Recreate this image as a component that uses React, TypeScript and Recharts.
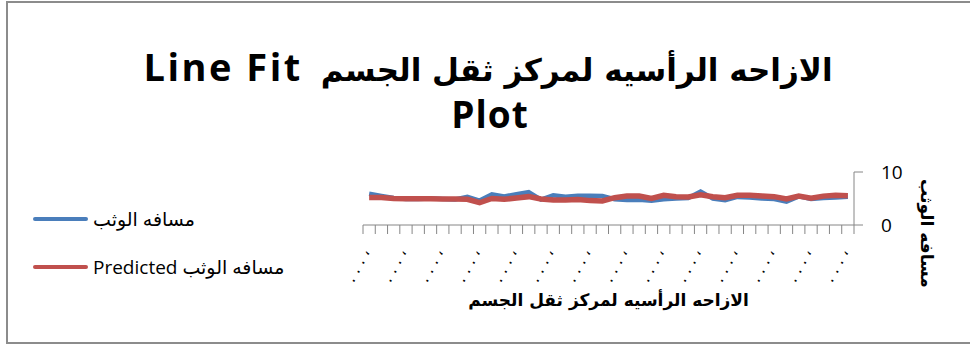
import { LineChart, Line, XAxis, YAxis, Legend, Label } from 'recharts'

// one entry per category
const observed = [
  5.9, 5.5, 5.1, 4.9, 4.9, 5.0, 4.9, 4.8, 5.3, 4.6,
  5.8, 5.4, 5.8, 6.2, 4.8, 5.6, 5.35, 5.5, 5.5, 5.45,
  4.85, 4.7, 4.75, 4.6, 4.85, 5.0, 5.1, 6.3, 5.0, 4.7,
  5.3, 5.2, 5.0, 4.9, 4.4, 5.4, 4.9, 5.1, 5.2, 5.35,
]
const predicted = [
  5.2, 5.2, 5.0, 4.95, 4.95, 4.95, 4.9, 4.9, 4.85, 4.2,
  5.0, 4.85, 5.1, 5.35, 4.9, 4.7, 4.7, 4.8, 4.6, 4.55,
  5.15, 5.45, 5.45, 5.0, 5.6, 5.35, 5.3, 5.7, 5.35, 5.15,
  5.6, 5.6, 5.45, 5.35, 4.9, 5.45, 5.05, 5.45, 5.6, 5.5,
]
const labeledCats = [1, 4, 7, 10, 13, 16, 19, 22, 25, 28, 31, 34, 37, 40]
const catLabel = '. . . ،'
const yTicks = [0, 10]

const seriesName = 'مسافه الوثب'
const predName = 'Predicted مسافه الوثب'
const xTitle = 'الازاحه الرأسيه لمركز ثقل الجسم'
const titleArabic = 'الازاحه الرأسيه لمركز ثقل الجسم'
const titleLatin = 'Line Fit'
const titleLine2 = 'Plot'

const data = observed.map((v, i) => ({ x: i + 1, obs: v, pred: predicted[i] }))
const boundaries = [0, ...observed.map((_, i) => i + 1)].map((n) => n + 0.5)

const BLUE = '#4A7EBB'
const RED = '#C0504D'
const AXIS = '#868686'
const arabicFont = '"DejaVu Sans", Arial, sans-serif'
const latinFont = '"Open Sans", "DejaVu Sans", sans-serif'

const CatTick = ({ x, y }: any) => (
  <text
    x={x + 1}
    y={y + 17}
    transform={`rotate(-62, ${x + 1}, ${y + 17})`}
    textAnchor="end"
    fontSize={16}
    fontFamily={arabicFont}
    fill="#000"
  >
    {catLabel}
  </text>
)

const legendOrder = [seriesName, predName]

const LegendBox = ({ payload }: any) => {
  const items = [...(payload || [])].sort((a: any, b: any) => legendOrder.indexOf(a.value) - legendOrder.indexOf(b.value))
  return (
    <div style={{ display: 'flex', flexDirection: 'column', gap: 26 }}>
      {items.map((p: any) => (
        <div key={p.value} style={{ display: 'flex', alignItems: 'center', height: 22 }}>
          <div style={{ width: 55, height: 4, borderRadius: 2, background: p.color, marginRight: 5 }} />
          <span style={{ fontSize: 19, fontFamily: latinFont, color: '#000', whiteSpace: 'nowrap' }}>{p.value}</span>
        </div>
      ))}
    </div>
  )
}

export default function App() {
  return (
    <div style={{ position: 'absolute', left: 0, top: 0, width: 970, height: 347, background: '#fff', overflow: 'hidden' }}>
      <div
        style={{
          position: 'absolute', left: 6, top: 1, width: 990, height: 343,
          border: '2px solid #8c8c8c', boxSizing: 'border-box',
        }}
      />
      <div
        style={{
          position: 'absolute', left: 0, top: 42, width: 976, textAlign: 'center',
          fontWeight: 700, lineHeight: '48px', color: '#000', whiteSpace: 'pre',
        }}
      >
        <span style={{ fontFamily: latinFont, fontSize: 38, letterSpacing: 2.5 }}>{titleLatin}</span>
        <span style={{ fontFamily: arabicFont, fontSize: 31, marginLeft: 18 }} dir="rtl">{titleArabic}</span>
      </div>
      <div
        style={{
          position: 'absolute', left: 0, top: 90, width: 980, textAlign: 'center',
          fontFamily: latinFont, fontWeight: 700, fontSize: 37, lineHeight: '48px', color: '#000', letterSpacing: 1,
        }}
      >
        {titleLine2}
      </div>
      <LineChart
        width={970}
        height={347}
        data={data}
        margin={{ top: 172, right: 0, left: 363, bottom: 72 }}
        style={{ position: 'absolute', left: 0, top: 0 }}
      >
        <XAxis
          xAxisId="grid"
          dataKey="x"
          type="number"
          domain={[0.5, 40.5]}
          ticks={boundaries}
          interval={0}
          height={10}
          stroke={AXIS}
          tickSize={9}
          tick={() => <g />}
          allowDataOverflow
        />
        <XAxis
          xAxisId="lab"
          dataKey="x"
          type="number"
          domain={[0.5, 40.5]}
          ticks={labeledCats}
          interval={0}
          height={40}
          axisLine={false}
          tickLine={false}
          tickSize={0}
          tickMargin={0}
          tick={<CatTick />}
        >
          <Label
            content={({ viewBox }: any) => (
              <text
                x={viewBox.x + viewBox.width / 2}
                y={viewBox.y + viewBox.height + 31}
                textAnchor="middle"
                fontSize={17}
                fontWeight={700}
                fontFamily={arabicFont}
                fill="#000"
              >
                {xTitle}
              </text>
            )}
          />
        </XAxis>
        <YAxis
          orientation="right"
          domain={[0, 10]}
          ticks={yTicks}
          width={116}
          stroke={AXIS}
          tickSize={9}
          tickMargin={18}
          tick={{ fill: '#000', fontSize: 19, fontFamily: latinFont }}
        >
          <Label
            content={({ viewBox }: any) => {
              const cx = viewBox.x + 73
              const cy = viewBox.y + viewBox.height / 2 + 35
              return (
                <text
                  x={cx}
                  y={cy}
                  transform={`rotate(90, ${cx}, ${cy})`}
                  textAnchor="middle"
                  dominantBaseline="central"
                  fontSize={17}
                  fontWeight={700}
                  fontFamily={arabicFont}
                  fill="#000"
                >
                  {seriesName}
                </text>
              )
            }}
          />
        </YAxis>
        <Legend
          layout="horizontal"
          align="center"
          verticalAlign="middle"
          content={<LegendBox />}
          wrapperStyle={{ position: 'absolute', left: 33, top: 208, width: 320 }}
        />
        <Line
          xAxisId="grid"
          name={seriesName}
          dataKey="obs"
          stroke={BLUE}
          strokeWidth={4.5}
          dot={false}
          isAnimationActive={false}
        />
        <Line
          xAxisId="grid"
          name={predName}
          dataKey="pred"
          stroke={RED}
          strokeWidth={5.5}
          dot={false}
          isAnimationActive={false}
        />
      </LineChart>
    </div>
  )
}
